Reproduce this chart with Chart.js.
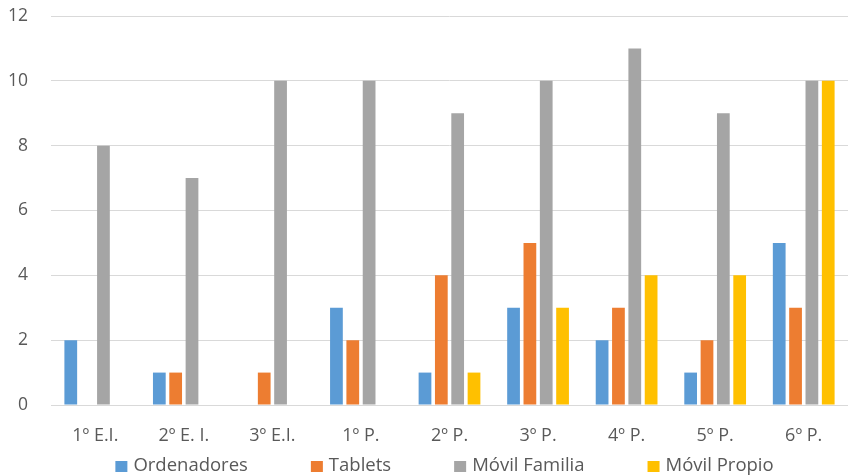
<!DOCTYPE html>
<html>
<head>
<meta charset="utf-8">
<script src="https://cdn.jsdelivr.net/npm/chart.js@4/dist/chart.umd.min.js"></script>
<style>
  html, body { margin: 0; padding: 0; background: #fff; }
  #wrap { width: 848px; height: 476px; position: relative; }
</style>
</head>
<body>
<div id="wrap"><canvas id="chart"></canvas></div>
<script>
// Cursos y valores
const cursos = ['1º E.I.', '2º E. I.', '3º E.I.', '1º P.', '2º P.', '3º P.', '4º P.', '5º P.', '6º P.'];
const ordenadores = [2, 1, 0, 3, 1, 3, 2, 1, 5];
const tablets = [0, 1, 1, 2, 4, 5, 3, 2, 3];
const movilFamilia = [8, 7, 10, 10, 9, 10, 11, 9, 10];
const movilPropio = [0, 0, 0, 0, 1, 3, 4, 4, 10];
const yTicks = [0, 2, 4, 6, 8, 10, 12];

const textColor = '#595959';
const fontFamily = '"Open Sans", "Noto Sans", sans-serif';

// Leyenda dibujada a mano para imitar el espaciado de Excel
const bottomLegend = {
    id: 'bottomLegend',
    afterDraw(chart) {
        const ctx = chart.ctx;
        const box = 12, gap = 6, spacing = 63;
        ctx.save();
        ctx.font = '18.5px ' + fontFamily;
        ctx.textBaseline = 'middle';
        const items = chart.data.datasets.map(ds => ({
            text: ds.label,
            color: ds.backgroundColor,
            w: box + gap + ctx.measureText(ds.label).width
        }));
        const total = items.reduce((s, it) => s + it.w, 0) + spacing * (items.length - 1);
        let x = 444.5 - total / 2;
        const y = 466;
        items.forEach(it => {
            ctx.fillStyle = it.color;
            ctx.fillRect(x, y - box / 2 + 1, box, box - 1);
            ctx.fillStyle = textColor;
            ctx.fillText(it.text, x + box + gap, y);
            x += it.w + spacing;
        });
        ctx.restore();
    }
};

const barOpts = { categoryPercentage: 0.738, barPercentage: 0.78, borderWidth: 0 };

new Chart(document.getElementById('chart'), {
    type: 'bar',
    data: {
        labels: cursos,
        datasets: [
            { label: 'Ordenadores', data: ordenadores, backgroundColor: '#5B9BD5', ...barOpts },
            { label: 'Tablets', data: tablets, backgroundColor: '#ED7D31', ...barOpts },
            { label: 'Móvil Familia', data: movilFamilia, backgroundColor: '#A5A5A5', ...barOpts },
            { label: 'Móvil Propio', data: movilPropio, backgroundColor: '#FFC000', ...barOpts }
        ]
    },
    options: {
        responsive: true,
        maintainAspectRatio: false,
        animation: false,
        layout: { padding: { top: 16, right: 0, bottom: 30, left: 0 } },
        plugins: {
            legend: { display: false },
            tooltip: { enabled: false }
        },
        scales: {
            x: {
                grid: { display: false, drawTicks: false },
                border: { display: true, color: '#D9D9D9', width: 1 },
                ticks: { color: textColor, font: { family: fontFamily, size: 18 }, padding: 20, maxRotation: 0 },
                afterFit: (scale) => { scale.height = 41; }
            },
            y: {
                min: 0,
                max: 12,
                afterBuildTicks: (scale) => { scale.ticks = yTicks.map(v => ({ value: v })); },
                grid: { color: '#D9D9D9', lineWidth: 1, drawTicks: false },
                border: { display: false },
                ticks: { color: textColor, font: { family: fontFamily, size: 17.5 }, padding: 23 },
                afterFit: (scale) => { scale.width = 51; scale.paddingTop = 0; scale.paddingBottom = 0; }
            }
        }
    },
    plugins: [bottomLegend]
});
</script>
</body>
</html>
